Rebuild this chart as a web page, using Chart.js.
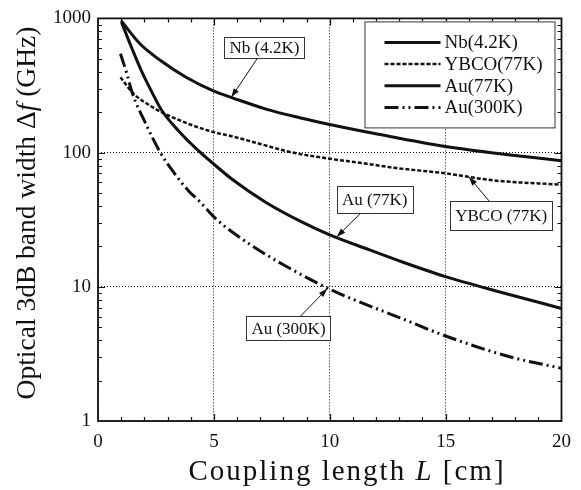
<!DOCTYPE html>
<html>
<head>
<meta charset="utf-8">
<script src="https://cdn.jsdelivr.net/npm/chart.js@4.4.0/dist/chart.umd.min.js"></script>
<style>
  html, body { margin: 0; padding: 0; background: #fff; }
  canvas { display: block; }
</style>
</head>
<body>
<canvas id="bandChart" width="581" height="490"></canvas>
<script>
// Optical 3dB band width vs coupling length
const seriesLabels = ['Nb(4.2K)', 'YBCO(77K)', 'Au(77K)', 'Au(300K)'];

const nbL  = [1, 1.8, 2.7, 3.8, 5, 5.8, 7.25, 8.7, 10, 12.1, 15, 17.8, 20];
const nbBW = [960, 650, 485, 364, 287, 256, 211, 182, 162, 137, 111, 96, 87];

const ybcoL  = [0.97, 1.53, 2.17, 2.76, 3.46, 4.19, 5, 5.8, 7, 8.3, 10, 11.3, 12.8, 15, 17.1, 20];
const ybcoBW = [364, 275, 228, 199, 176, 157, 142, 132, 116, 101, 90, 84, 77, 70, 62, 57.7];

const au77L  = [1.02, 1.47, 1.9, 2.33, 2.76, 3.48, 4.19, 5, 5.8, 7.25, 8.7, 10, 11.55, 13, 15, 17.5, 20];
const au77BW = [930, 594, 397, 281, 205, 145, 109, 82, 63, 42.5, 31, 24.4, 19.3, 15.6, 11.9, 9.0, 6.9];

const au300L  = [0.97, 1.24, 1.47, 2.04, 2.69, 3.3, 3.9, 4.4, 5.1, 6.5, 8, 10, 11.55, 13, 15, 17.8, 20];
const au300BW = [545, 390, 281, 167, 100, 70, 52, 43, 32, 21, 14.6, 9.6, 7.4, 5.9, 4.3, 3.0, 2.47];

const xTicks = [0, 5, 10, 15, 20];
const yTicks = [1, 10, 100, 1000];

const SERIF = '"Liberation Serif", "Times New Roman", "DejaVu Serif Condensed", serif';
const INK = '#111';

function toPoints(xs, ys) {
    return xs.map((x, i) => ({ x: x, y: ys[i] }));
}

// callouts: text, box centre and arrow tip in data units, box height in px
const callouts = [
    { text: 'Nb (4.2K)',  box: [7.18, 603],  tip: [5.75, 258],  h: 21 },
    { text: 'Au (77K)',   box: [11.94, 45],  tip: [10.3, 23.5], h: 27 },
    { text: 'YBCO (77K)', box: [17.4, 34],   tip: [16, 66],     h: 29 },
    { text: 'Au (300K)',  box: [8.22, 4.9],  tip: [9.9, 9.7],   h: 24 }
];

// frame with inward ticks on all four sides
const frameTicks = {
    id: 'frameTicks',
    afterDatasetsDraw(chart) {
        const ctx = chart.ctx;
        const a = chart.chartArea;
        const xs = chart.scales.x;
        const ys = chart.scales.y;
        ctx.save();
        ctx.strokeStyle = INK;
        ctx.lineWidth = 1.2;
        ctx.beginPath();
        for (let v = 1; v < 20; v++) {
            const px = Math.round(xs.getPixelForValue(v)) + 0.5;
            const len = v % 5 === 0 ? 7 : 4;
            ctx.moveTo(px, a.bottom); ctx.lineTo(px, a.bottom - len);
            ctx.moveTo(px, a.top); ctx.lineTo(px, a.top + len);
        }
        for (let d = 1; d < 1000; d *= 10) {
            for (let k = 1; k < 10; k++) {
                if (d === 1 && k === 1) continue;
                const py = Math.round(ys.getPixelForValue(d * k)) + 0.5;
                const len = k === 1 ? 7 : 4;
                ctx.moveTo(a.left, py); ctx.lineTo(a.left + len, py);
                ctx.moveTo(a.right, py); ctx.lineTo(a.right - len, py);
            }
        }
        ctx.stroke();
        ctx.lineWidth = 1.8;
        ctx.strokeRect(a.left, a.top, a.right - a.left, a.bottom - a.top);
        ctx.restore();
    }
};

// boxed legend in the upper right of the plot
const boxLegend = {
    id: 'boxLegend',
    afterDatasetsDraw(chart) {
        const ctx = chart.ctx;
        const a = chart.chartArea;
        const w = 190, h = 106;
        const left = a.right - 7 - w;
        const top = a.top + 3;
        ctx.save();
        ctx.fillStyle = '#fff';
        ctx.fillRect(left, top, w, h);
        ctx.strokeStyle = '#333';
        ctx.lineWidth = 1;
        ctx.strokeRect(left + 0.5, top + 0.5, w, h);
        ctx.font = '19px ' + SERIF;
        ctx.textBaseline = 'middle';
        ctx.textAlign = 'left';
        chart.data.datasets.forEach((ds, i) => {
            const y = top + 21 + i * 21.7;
            ctx.strokeStyle = ds.borderColor;
            ctx.lineWidth = ds.borderWidth;
            ctx.setLineDash(ds.borderDash || []);
            ctx.beginPath();
            ctx.moveTo(left + 20, y);
            ctx.lineTo(left + 76, y);
            ctx.stroke();
            ctx.setLineDash([]);
            ctx.fillStyle = INK;
            ctx.fillText(ds.label, left + 80, y + 1);
        });
        ctx.restore();
    }
};

// boxed labels with arrows pointing at the curves
const calloutPlugin = {
    id: 'calloutPlugin',
    afterDatasetsDraw(chart) {
        const ctx = chart.ctx;
        const xs = chart.scales.x;
        const ys = chart.scales.y;
        ctx.save();
        ctx.font = '17px ' + SERIF;
        ctx.textAlign = 'center';
        ctx.textBaseline = 'middle';
        callouts.forEach(c => {
            const cx = xs.getPixelForValue(c.box[0]);
            const cy = ys.getPixelForValue(c.box[1]);
            const tx = xs.getPixelForValue(c.tip[0]);
            const ty = ys.getPixelForValue(c.tip[1]);
            const bw = ctx.measureText(c.text).width + 10;
            const bh = c.h;
            // arrow leaves the box edge on the line towards the tip
            const dx = tx - cx, dy = ty - cy;
            const t = Math.min(Math.abs((bw / 2) / dx), Math.abs((bh / 2) / dy));
            const sx = cx + dx * t, sy = cy + dy * t;
            ctx.strokeStyle = INK;
            ctx.lineWidth = 1;
            ctx.beginPath();
            ctx.moveTo(sx, sy);
            ctx.lineTo(tx, ty);
            ctx.stroke();
            const ang = Math.atan2(ty - sy, tx - sx);
            ctx.fillStyle = INK;
            ctx.beginPath();
            ctx.moveTo(tx, ty);
            ctx.lineTo(tx - 9 * Math.cos(ang) + 3 * Math.sin(ang), ty - 9 * Math.sin(ang) - 3 * Math.cos(ang));
            ctx.lineTo(tx - 9 * Math.cos(ang) - 3 * Math.sin(ang), ty - 9 * Math.sin(ang) + 3 * Math.cos(ang));
            ctx.closePath();
            ctx.fill();
            ctx.fillStyle = '#fff';
            ctx.fillRect(cx - bw / 2, cy - bh / 2, bw, bh);
            ctx.strokeStyle = '#333';
            ctx.strokeRect(Math.round(cx - bw / 2) + 0.5, Math.round(cy - bh / 2) + 0.5, Math.round(bw), bh);
            ctx.fillStyle = INK;
            ctx.fillText(c.text, cx, cy + 1);
        });
        ctx.restore();
    }
};

// axis titles with italic symbols
function drawRich(ctx, parts, size) {
    let total = 0;
    parts.forEach(p => {
        ctx.font = (p.italic ? 'italic ' : '') + size + 'px ' + SERIF;
        p.w = ctx.measureText(p.t).width;
        total += p.w;
    });
    let x = -total / 2;
    parts.forEach(p => {
        ctx.font = (p.italic ? 'italic ' : '') + size + 'px ' + SERIF;
        ctx.fillText(p.t, x, 0);
        x += p.w;
    });
}

const axisTitles = {
    id: 'axisTitles',
    afterDraw(chart) {
        const ctx = chart.ctx;
        const a = chart.chartArea;
        ctx.save();
        ctx.fillStyle = INK;
        ctx.textAlign = 'left';
        ctx.textBaseline = 'middle';
        ctx.translate(a.left + 249, 472);
        ctx.letterSpacing = '2px';
        drawRich(ctx, [
            { t: 'Coupling length ' },
            { t: 'L', italic: true },
            { t: ' [cm]' }
        ], 29);
        ctx.restore();

        ctx.save();
        ctx.fillStyle = INK;
        ctx.textAlign = 'left';
        ctx.textBaseline = 'middle';
        ctx.translate(28, 213);
        ctx.rotate(-Math.PI / 2);
        drawRich(ctx, [
            { t: 'Optical 3dB band width ' },
            { t: 'Δ' },
            { t: 'f', italic: true },
            { t: ' (GHz)' }
        ], 27.5);
        ctx.restore();
    }
};

new Chart(document.getElementById('bandChart'), {
    type: 'line',
    data: {
        datasets: [{
            label: seriesLabels[0],
            data: toPoints(nbL, nbBW),
            borderColor: INK,
            borderWidth: 3
        }, {
            label: seriesLabels[1],
            data: toPoints(ybcoL, ybcoBW),
            borderColor: INK,
            borderWidth: 2.5,
            borderDash: [4, 2]
        }, {
            label: seriesLabels[2],
            data: toPoints(au77L, au77BW),
            borderColor: INK,
            borderWidth: 3
        }, {
            label: seriesLabels[3],
            data: toPoints(au300L, au300BW),
            borderColor: INK,
            borderWidth: 3,
            borderDash: [14, 4, 2, 4, 2, 4]
        }]
    },
    options: {
        responsive: false,
        animation: false,
        layout: { padding: { top: 18, right: 17, left: 0, bottom: 0 } },
        elements: {
            point: { radius: 0 },
            line: { cubicInterpolationMode: 'monotone', fill: false }
        },
        plugins: {
            legend: { display: false },
            tooltip: { enabled: false }
        },
        scales: {
            x: {
                type: 'linear',
                min: 0,
                max: 20,
                afterBuildTicks: s => { s.ticks = xTicks.map(v => ({ value: v })); },
                afterFit: s => { s.height = 69; },
                ticks: {
                    padding: 10,
                    color: INK,
                    font: { family: SERIF, size: 19 }
                },
                grid: { color: INK, lineWidth: 1, drawTicks: false },
                border: { display: false, dash: [1, 2] }
            },
            y: {
                type: 'logarithmic',
                min: 1,
                max: 1000,
                afterBuildTicks: s => { s.ticks = yTicks.map(v => ({ value: v })); },
                afterFit: s => { s.width = 98; },
                ticks: {
                    padding: 7,
                    color: INK,
                    font: { family: SERIF, size: 19 },
                    callback: v => String(v)
                },
                grid: { color: INK, lineWidth: 1, drawTicks: false },
                border: { display: false, dash: [1, 2] }
            }
        }
    },
    plugins: [frameTicks, boxLegend, calloutPlugin, axisTitles]
});
</script>
</body>
</html>
